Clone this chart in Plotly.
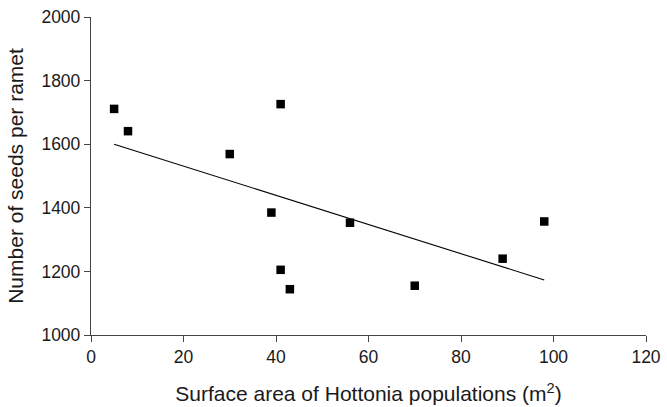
import plotly.graph_objects as go

area = [5, 8, 30, 41, 39, 41, 43, 56, 70, 89, 98]
seeds = [1711, 1641, 1569, 1726, 1385, 1205, 1144, 1353, 1155, 1240, 1357]

fit_x = [5, 98]
fit_y = [1600, 1173]

x_ticks = [0, 20, 40, 60, 80, 100, 120]
y_ticks = [1000, 1200, 1400, 1600, 1800, 2000]

font_family = "Liberation Sans, Arial, Helvetica, sans-serif"

fig = go.Figure()
fig.add_trace(go.Scatter(x=fit_x, y=fit_y, mode="lines",
                         line=dict(color="black", width=1.1), showlegend=False))
fig.add_trace(go.Scatter(x=area, y=seeds, mode="markers",
                         marker=dict(symbol="square", size=8.5, color="black"),
                         showlegend=False))

axis_common = dict(showgrid=False, zeroline=False, showline=True, linecolor="#444",
                   linewidth=1.3, ticks="outside", ticklen=6, tickcolor="#444",
                   tickwidth=1.3, tickfont=dict(size=17.5, color="#1a1a1a"),
                   ticklabeloverflow="allow")

fig.update_layout(
    width=667, height=407,
    margin=dict(l=91, r=21, t=17, b=72, autoexpand=False),
    paper_bgcolor="white", plot_bgcolor="white",
    font=dict(family=font_family, color="#1a1a1a"),
    xaxis=dict(range=[0, 120], tickvals=x_ticks, **axis_common,
               title=dict(text="Surface area of Hottonia populations (m<sup>2</sup>)",
                          font=dict(size=21), standoff=20)),
    yaxis=dict(range=[1000, 2000], tickvals=y_ticks, **axis_common,
               title=dict(text="Number of seeds per ramet", font=dict(size=21), standoff=12)),
)

fig.write_html("out.html", config={"displayModeBar": False},
               post_script="document.body.style.margin='0';")
